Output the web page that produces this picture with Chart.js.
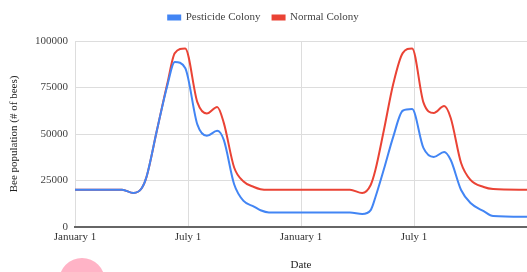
<!DOCTYPE html>
<html lang="en">
<head>
  <meta charset="UTF-8">
  <title>Bee Population</title>
  <script src="https://cdn.jsdelivr.net/npm/chart.js"></script>
  <style>
    html, body {
      margin: 0;
      padding: 0;
      background: #ffffff;
      overflow: hidden;
    }
    .wrap {
      position: relative;
      width: 527px;
      height: 272px;
    }
    .blob {
      position: absolute;
      left: 59px;
      top: 258px;
      width: 46px;
      height: 46px;
      border-radius: 50%;
      background: #ffb3c6;
    }
  </style>
</head>
<body>
  <div class="wrap">
    <canvas id="beeChart" width="527" height="272"></canvas>
    <div class="blob"></div>
  </div>

  <script>
    // months since the first January 1
    const months = [0, 2.5, 3.1, 3.55, 3.8, 4.35, 4.9, 5.3, 5.85, 6.5, 7.0, 7.55, 7.9, 8.45, 8.95, 9.5, 9.85, 10.3,
                    14.6, 15.25, 15.7, 15.95, 16.4, 16.9, 17.4, 17.9, 18.5, 19.05, 19.6, 19.95, 20.5, 21.0, 21.7, 22.2, 24];
    const pesticideColony = [20000, 20000, 18300, 21000, 27000, 52000, 76000, 88700, 85500, 55000, 49000, 51700, 46800, 23000, 14000, 11000, 9000, 7800,
                             7800, 7000, 9100, 16000, 31000, 48600, 62500, 63400, 42500, 37600, 40300, 36000, 19900, 12900, 8500, 5900, 5500];
    const normalColony = [20000, 20000, 18300, 21000, 27000, 52000, 77000, 93500, 96000, 67000, 61000, 64500, 56000, 32000, 24500, 21500, 20300, 20000,
                          20000, 18300, 22600, 30600, 52000, 77000, 93500, 96000, 67000, 61300, 65000, 58600, 34400, 25300, 21500, 20400, 20000];
    const yTicks = [0, 25000, 50000, 75000, 100000];
    const xTicks = [0, 6, 12, 18];

    const serif = "'Liberation Serif', 'Times New Roman', serif";

    function toPoints(values) {
      return values.map((v, i) => ({ x: months[i], y: v }));
    }

    // push the plot area down a little below the legend
    const legendGap = {
      id: 'legendGap',
      beforeInit(chart) {
        const fit = chart.legend.fit;
        chart.legend.fit = function () {
          fit.bind(chart.legend)();
          this.height += 8;
        };
      }
    };

    new Chart(document.getElementById('beeChart'), {
      type: 'line',
      data: {
        datasets: [
          {
            label: 'Pesticide Colony',
            data: toPoints(pesticideColony),
            borderColor: '#4285f4',
            backgroundColor: '#4285f4',
            borderWidth: 2,
            pointRadius: 0,
            cubicInterpolationMode: 'monotone',
            fill: false
          },
          {
            label: 'Normal Colony',
            data: toPoints(normalColony),
            borderColor: '#ea4335',
            backgroundColor: '#ea4335',
            borderWidth: 2,
            pointRadius: 0,
            cubicInterpolationMode: 'monotone',
            fill: false
          }
        ]
      },
      options: {
        responsive: false,
        animation: false,
        plugins: {
          legend: {
            position: 'top',
            labels: {
              boxWidth: 12,
              boxHeight: 4,
              color: '#444',
              font: { family: serif, size: 11 },
              padding: 12
            }
          },
          tooltip: { enabled: false }
        },
        scales: {
          x: {
            type: 'linear',
            min: 0,
            max: 24,
            afterBuildTicks: axis => {
              axis.ticks = xTicks.map(v => ({ value: v }));
            },
            afterFit: axis => { axis.height = 45; },
            ticks: {
              color: '#333',
              font: { family: serif, size: 11 },
              maxRotation: 0,
              padding: 4,
              callback: v => (v % 12 === 0 ? 'January 1' : 'July 1')
            },
            grid: { color: '#dddddd', drawTicks: false },
            border: { color: '#666666', width: 2 },
            title: {
              display: true,
              text: 'Date',
              color: '#222',
              font: { family: serif, size: 11 },
              padding: { top: 0, bottom: 0 }
            }
          },
          y: {
            min: 0,
            max: 100000,
            afterBuildTicks: axis => {
              axis.ticks = yTicks.map(v => ({ value: v }));
            },
            afterFit: axis => { axis.width = 75; },
            ticks: {
              color: '#444',
              font: { family: serif, size: 11 },
              padding: 7,
              callback: v => String(v)
            },
            grid: { color: '#dddddd', drawTicks: false },
            border: { display: false },
            title: {
              display: true,
              text: 'Bee population (# of bees)',
              color: '#222',
              font: { family: serif, size: 11 },
              padding: { top: 8, bottom: 0 }
            }
          }
        }
      },
      plugins: [legendGap]
    });
  </script>
</body>
</html>
